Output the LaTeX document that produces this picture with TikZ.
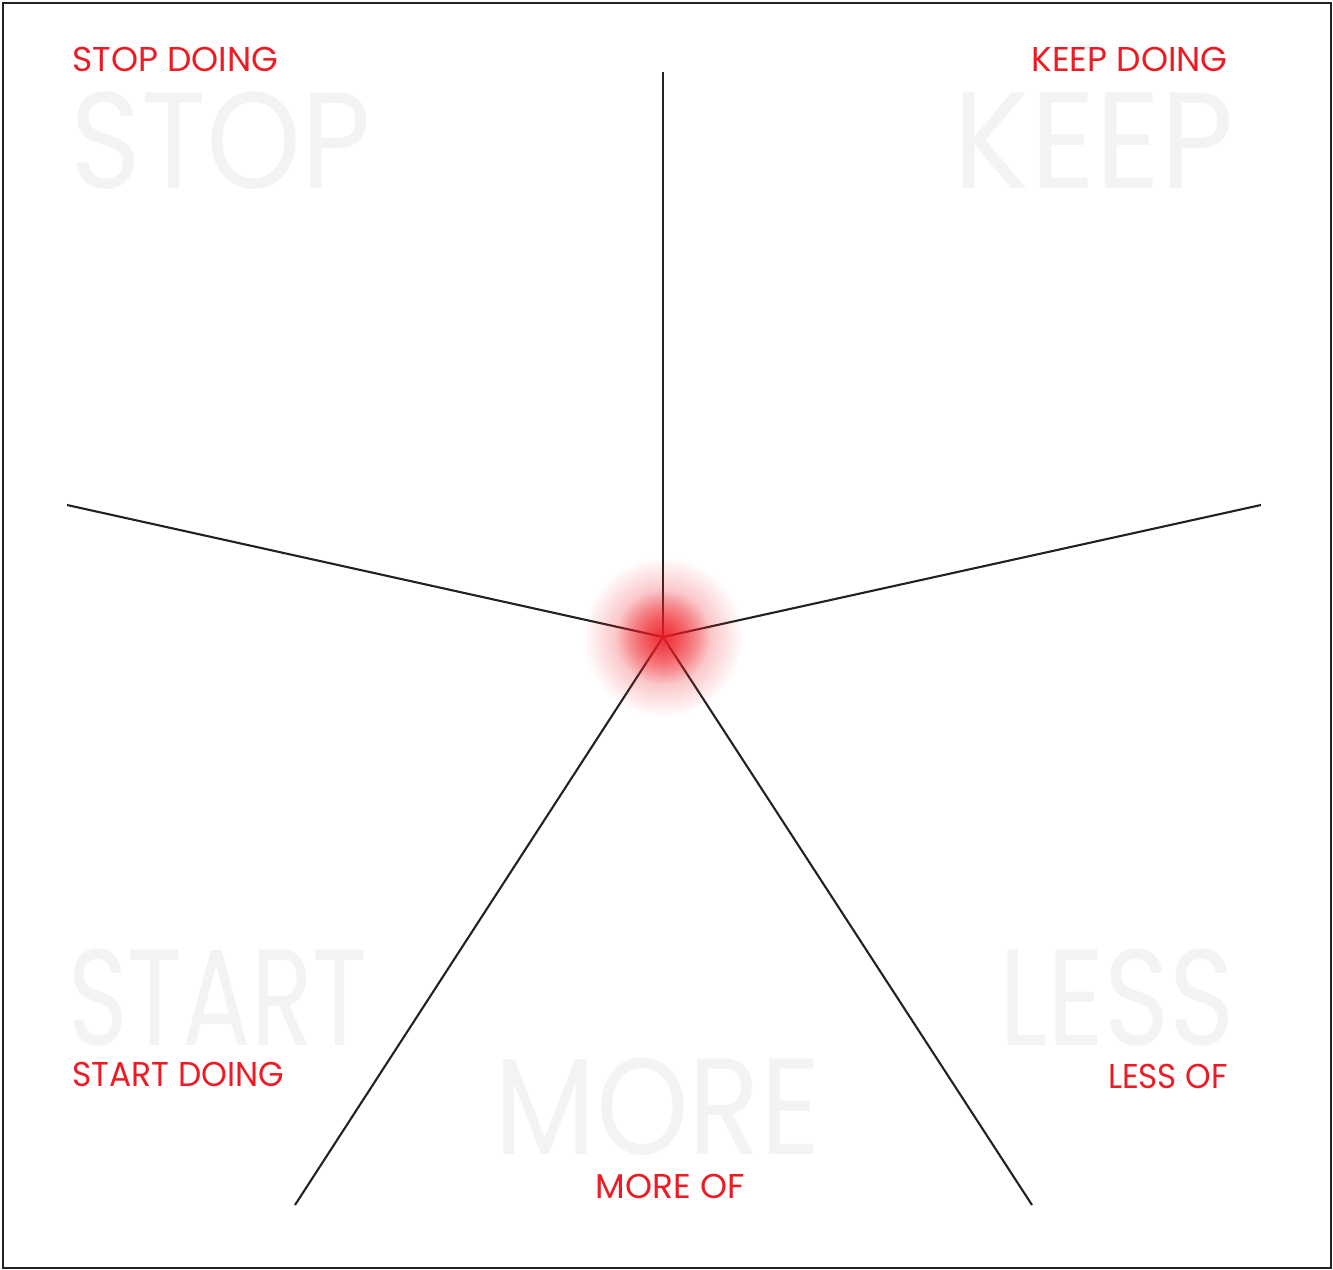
\documentclass[tikz,border=0pt]{standalone}
\usepackage{fontspec}
\setmainfont{Poppins}
\usetikzlibrary{fadings}
\definecolor{alarm}{RGB}{237,28,36}
\definecolor{ghost}{RGB}{243,243,243}
\definecolor{ink}{RGB}{34,34,34}
\tikzfading[name=glowfade, inner color=transparent!0, outer color=transparent!100]
\tikzset{
  cue/.style={text=alarm, font=\fontsize{19.6}{20}\selectfont, inner sep=0pt, xscale=#1, transform shape},
  cue/.default=1,
  watermark/.style={text=ghost, font=\fontsize{78}{78}\selectfont, inner sep=0pt, xscale=#1, transform shape},
  watermark/.default=1,
  spoke/.style={draw=ink, line width=1.2pt},
}

\begin{document}
\begin{tikzpicture}[x=0.02cm,y=-0.02cm]
    \useasboundingbox (0,0) rectangle (1333,1270);
    \draw[ink,line width=0.8pt] (3,3) rectangle (1331,1268);
    % faint big words
    \node[watermark=0.88,anchor=base west] (stopbg) at (70,189) {STOP};
    \node[watermark=0.93,anchor=base east] (keepbg) at (1235,189) {KEEP};
    \node[watermark=0.74,anchor=base west] (startbg) at (68,1045) {START};
    \node[watermark=0.86,anchor=base] (morebg) at (658,1154) {MORE};
    \node[watermark=0.81,anchor=base east] (lessbg) at (1235,1045) {LESS};
    % red captions
    \node[cue,anchor=base west] (stop) at (72,72) {STOP DOING};
    \node[cue,anchor=base east] (keep) at (1228,72) {KEEP DOING};
    \node[cue=0.955,anchor=base west] (start) at (72,1086) {START DOING};
    \node[cue,anchor=base] (more) at (670,1198) {MORE OF};
    \node[cue=0.945,anchor=base east] (less) at (1228,1088) {LESS OF};
    % spokes
    \coordinate (hub) at (663,637);
    \coordinate (topend) at (663,72);
    \coordinate (leftend) at (67,505);
    \coordinate (rightend) at (1261,505);
    \coordinate (lowleft) at (295,1205);
    \coordinate (lowright) at (1032,1205);
    \foreach \e in {topend,leftend,rightend,lowleft,lowright}
      \draw[spoke] (hub) -- (\e);
    % glow on the hub
    \fill[alarm,path fading=glowfade,fill opacity=0.6] (hub) circle (1.6cm);
    \fill[alarm,path fading=glowfade,fill opacity=0.8] (hub) circle (0.95cm);
  \end{tikzpicture}
\end{document}
